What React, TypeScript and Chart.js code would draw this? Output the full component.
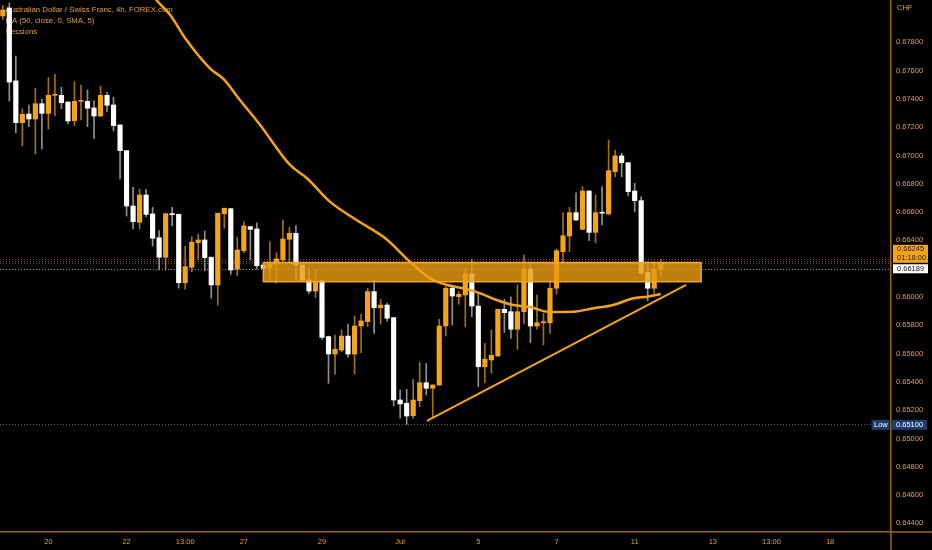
import React, { useEffect, useRef } from "react";
import { Chart, registerables } from "chart.js";

Chart.register(...registerables);

// ---- data (4h candles, index 0 = leftmost partially visible bar) ----
const OPEN = [
  0.67986, 0.68042, 0.67527, 0.67232, 0.67293, 0.67258, 0.67366, 0.67298, 0.67425, 0.67425,
  0.67378, 0.67246, 0.67383, 0.67383, 0.67336, 0.67279, 0.67425, 0.67357, 0.67216, 0.67034,
  0.66643, 0.66528, 0.66721, 0.66587, 0.66419, 0.66281, 0.66587, 0.66584, 0.66101, 0.66210,
  0.66384, 0.66403, 0.66281, 0.66085, 0.66589, 0.66624, 0.66196, 0.66327, 0.66497, 0.66481,
  0.66226, 0.66203, 0.66233, 0.66262, 0.66408, 0.66450, 0.66226, 0.66120, 0.66042, 0.66115,
  0.65720, 0.65597, 0.65625, 0.65724, 0.65597, 0.65795, 0.65826, 0.66038, 0.65924, 0.65943,
  0.65854, 0.65272, 0.65249, 0.65161, 0.65267, 0.65394, 0.65355, 0.65378, 0.65795, 0.66062,
  0.66002, 0.66014, 0.66163, 0.65936, 0.65507, 0.65555, 0.65583, 0.65913, 0.65896, 0.65772,
  0.65896, 0.66196, 0.65795, 0.65818, 0.65818, 0.66062, 0.66320, 0.66431, 0.66596, 0.66478,
  0.66749, 0.66457, 0.66599, 0.66587, 0.66886, 0.66997, 0.66949, 0.66749, 0.66681, 0.66175,
  0.66062, 0.66196,
];
const HIGH = [
  0.68060, 0.68078, 0.67703, 0.67329, 0.67357, 0.67475, 0.67397, 0.67550, 0.67574, 0.67482,
  0.67380, 0.67522, 0.67498, 0.67463, 0.67387, 0.67491, 0.67447, 0.67411, 0.67218, 0.67035,
  0.66775, 0.66763, 0.66761, 0.66634, 0.66469, 0.66592, 0.66634, 0.66587, 0.66360, 0.66426,
  0.66445, 0.66466, 0.66283, 0.66594, 0.66629, 0.66626, 0.66422, 0.66532, 0.66500, 0.66525,
  0.66229, 0.66391, 0.66313, 0.66544, 0.66493, 0.66504, 0.66228, 0.66203, 0.66191, 0.66120,
  0.65724, 0.65731, 0.65767, 0.65809, 0.65866, 0.65878, 0.66062, 0.66120, 0.65984, 0.65955,
  0.65856, 0.65343, 0.65348, 0.65418, 0.65539, 0.65531, 0.65380, 0.65842, 0.66073, 0.66073,
  0.66038, 0.66203, 0.66266, 0.66030, 0.65673, 0.65767, 0.65915, 0.65984, 0.66002, 0.66085,
  0.66297, 0.66238, 0.66014, 0.65885, 0.66108, 0.66339, 0.66596, 0.66634, 0.66737, 0.66780,
  0.66752, 0.66721, 0.66780, 0.67110, 0.67039, 0.67016, 0.66952, 0.66804, 0.66709, 0.66249,
  0.66249, 0.66266,
];
const LOW = [
  0.67960, 0.67385, 0.67161, 0.67067, 0.67204, 0.67011, 0.67046, 0.67187, 0.67281, 0.67331,
  0.67223, 0.67211, 0.67251, 0.67204, 0.67119, 0.67275, 0.67310, 0.67173, 0.66834, 0.66572,
  0.66481, 0.66481, 0.66568, 0.66360, 0.66191, 0.66191, 0.66502, 0.66062, 0.66054, 0.66179,
  0.66262, 0.66184, 0.65991, 0.65943, 0.66486, 0.66160, 0.66151, 0.66313, 0.66262, 0.66196,
  0.66196, 0.66108, 0.66097, 0.66249, 0.66249, 0.66108, 0.66115, 0.66026, 0.65997, 0.65701,
  0.65390, 0.65454, 0.65613, 0.65574, 0.65456, 0.65606, 0.65790, 0.65743, 0.65809, 0.65830,
  0.65230, 0.65143, 0.65100, 0.65143, 0.65225, 0.65307, 0.65154, 0.65374, 0.65724, 0.65802,
  0.65948, 0.65790, 0.65861, 0.65366, 0.65394, 0.65461, 0.65580, 0.65748, 0.65708, 0.65630,
  0.65809, 0.65677, 0.65772, 0.65661, 0.65743, 0.66020, 0.66238, 0.66320, 0.66540, 0.66475,
  0.66398, 0.66384, 0.66509, 0.66580, 0.66850, 0.66850, 0.66714, 0.66603, 0.66160, 0.65974,
  0.66026, 0.66144,
];
const CLOSE = [
  0.68028, 0.67519, 0.67232, 0.67291, 0.67258, 0.67366, 0.67298, 0.67425, 0.67430, 0.67373,
  0.67244, 0.67383, 0.67386, 0.67334, 0.67279, 0.67425, 0.67355, 0.67211, 0.67034, 0.66643,
  0.66532, 0.66721, 0.66584, 0.66415, 0.66281, 0.66589, 0.66582, 0.66101, 0.66214, 0.66387,
  0.66403, 0.66278, 0.66085, 0.66592, 0.66627, 0.66191, 0.66332, 0.66502, 0.66478, 0.66221,
  0.66203, 0.66231, 0.66269, 0.66410, 0.66450, 0.66226, 0.66120, 0.66042, 0.66108, 0.65715,
  0.65597, 0.65630, 0.65724, 0.65597, 0.65795, 0.65831, 0.66038, 0.65924, 0.65943, 0.65850,
  0.65272, 0.65244, 0.65159, 0.65272, 0.65394, 0.65355, 0.65378, 0.65795, 0.66062, 0.66007,
  0.66019, 0.66163, 0.65936, 0.65507, 0.65560, 0.65588, 0.65913, 0.65889, 0.65772, 0.65896,
  0.66196, 0.65795, 0.65818, 0.65826, 0.66062, 0.66327, 0.66433, 0.66596, 0.66544, 0.66749,
  0.66457, 0.66596, 0.66592, 0.66893, 0.66997, 0.66949, 0.66744, 0.66681, 0.66168, 0.66062,
  0.66196, 0.66245,
];

// MA(50) line (bar index, price)
const MA_IDX = [22.6, 23.6, 25.7, 28.2, 31.8, 33.9, 36.4, 39.5, 44.1, 46.7, 50.2, 54.3, 58.9, 62.5, 65.6, 68.2, 71.2, 73.3, 75.8, 78.4, 80.9, 84.0, 87.6, 90.7, 93.7, 96.8, 98.9, 101.0];
const MA_VAL = [0.68170, 0.68099, 0.67993, 0.67816, 0.67616, 0.67539, 0.67392, 0.67216, 0.66933, 0.66839, 0.66674, 0.66544, 0.66408, 0.66249, 0.66132, 0.66085, 0.66057, 0.66026, 0.65979, 0.65943, 0.65929, 0.65894, 0.65896, 0.65920, 0.65943, 0.65991, 0.66002, 0.66021];

// rising trend line
const TREND_IDX = [65.1, 104.9];
const TREND_VAL = [0.65124, 0.66085];

// resistance zone
const ZONE_IDX = [40, 107.2];
const ZONE_VAL = [0.66243, 0.66108];

// axis ticks
const X_TICK_IDX = [7, 19, 28, 37, 49, 61, 73, 85, 97, 109, 118, 127];
const X_TICK_TEXT = ["20", "22", "13:00", "27", "29", "Jul", "5", "7", "11", "13", "13:00", "18"];
const Y_TICKS = [0.644, 0.646, 0.648, 0.65, 0.652, 0.654, 0.656, 0.658, 0.66, 0.662, 0.664, 0.666, 0.668, 0.67, 0.672, 0.674, 0.676, 0.678];

const LAST_PRICE = 0.66245;
const COUNTDOWN = "01:18:00";
const BID_PRICE = 0.66189;
const LOW_PRICE = 0.651;
const LEGEND = ["Australian Dollar / Swiss Franc, 4h, FOREX.com", "MA (50, close, 0, SMA, 5)", "Sessions"];

const ORANGE = "#F5A416";
const TEXT_ORANGE = "#E3A03A";
const AXIS_LINE = "#9a6614";
const FONT = "'Liberation Sans', Arial, sans-serif";

const overlay = {
  id: "overlay",
  beforeDatasetsDraw(chart: any) {
    const { ctx, chartArea, scales } = chart;
    const y = scales.y;
    ctx.save();
    // legend text (under candles)
    ctx.font = `7.8px ${FONT}`;
    ctx.fillStyle = TEXT_ORANGE;
    ctx.textBaseline = "middle";
    ctx.textAlign = "left";
    LEGEND.forEach((t, i) => ctx.fillText(t, 5.5, 10 + i * 10.8));
    // dotted price lines
    ctx.lineWidth = 1;
    ctx.setLineDash([1, 2]);
    const dl = (p: number, color: string, off = 0) => {
      const py = Math.round(y.getPixelForValue(p) + off) + 0.5;
      ctx.strokeStyle = color;
      ctx.beginPath();
      ctx.moveTo(chartArea.left, py);
      ctx.lineTo(chartArea.right, py);
      ctx.stroke();
    };
    dl(LAST_PRICE, "rgba(170,70,50,0.9)", -3.5);
    dl(LAST_PRICE, "rgba(170,70,50,0.9)", -1);
    dl(LAST_PRICE, "rgba(150,150,150,0.55)", 1);
    dl(BID_PRICE, "rgba(200,200,200,0.7)", -1.3);
    dl(LOW_PRICE, "rgba(120,130,150,0.7)");
    ctx.restore();
  },
  beforeDatasetDraw(chart: any, args: any) {
    if (args.index !== 2) return;
    const { ctx, scales } = chart;
    const x0 = scales.x.getPixelForValue(ZONE_IDX[0]);
    const x1 = scales.x.getPixelForValue(ZONE_IDX[1]);
    const y0 = scales.y.getPixelForValue(ZONE_VAL[0]);
    const y1 = scales.y.getPixelForValue(ZONE_VAL[1]);
    ctx.save();
    ctx.fillStyle = "rgba(232,155,18,0.82)";
    ctx.fillRect(x0, y0, x1 - x0, y1 - y0);
    ctx.strokeStyle = "#F7A823";
    ctx.lineWidth = 1.5;
    ctx.strokeRect(x0, y0, x1 - x0, y1 - y0);
    ctx.restore();
  },
  afterDraw(chart: any) {
    const { ctx, chartArea, scales, width, height } = chart;
    const y = scales.y;
    const ax = chartArea.right;
    ctx.save();
    // extend axis lines into the corner
    ctx.strokeStyle = AXIS_LINE;
    ctx.lineWidth = 1.5;
    ctx.beginPath();
    ctx.moveTo(ax, chartArea.bottom);
    ctx.lineTo(width, chartArea.bottom);
    ctx.moveTo(ax, chartArea.bottom);
    ctx.lineTo(ax, height);
    ctx.stroke();

    ctx.font = `7.5px ${FONT}`;
    ctx.textBaseline = "middle";
    ctx.textAlign = "left";
    ctx.fillStyle = TEXT_ORANGE;
    ctx.fillText("CHF", ax + 6, 8);
    // last price box
    const ly = y.getPixelForValue(LAST_PRICE);
    ctx.fillStyle = "#F5A416";
    ctx.fillRect(ax + 2, ly - 17.5, 35, 18);
    ctx.fillStyle = "#2a1a00";
    ctx.fillText(LAST_PRICE.toFixed(5), ax + 6, ly - 13);
    ctx.fillText(COUNTDOWN, ax + 6, ly - 4);
    // bid box
    const by = y.getPixelForValue(BID_PRICE);
    ctx.fillStyle = "#ffffff";
    ctx.fillRect(ax + 2, by - 6, 35, 9);
    ctx.fillStyle = "#111";
    ctx.fillText(BID_PRICE.toFixed(5), ax + 6, by - 1.5);
    // low label
    const lowy = y.getPixelForValue(LOW_PRICE);
    ctx.fillStyle = "#1f3b6e";
    ctx.fillRect(ax - 19.5, lowy - 4.5, 18, 10);
    ctx.fillRect(ax, lowy - 4.5, 36, 10);
    ctx.fillStyle = "#ffffff";
    ctx.fillText("Low", ax - 17, lowy + 0.5);
    ctx.fillText(LOW_PRICE.toFixed(5), ax + 5, lowy + 0.5);
    ctx.restore();
  },
};

export default function App() {
  const ref = useRef<HTMLCanvasElement | null>(null);
  useEffect(() => {
    document.body.style.margin = "0";
    document.body.style.background = "#000";
    const canvas = ref.current;
    if (!canvas) return;
    const idx = OPEN.map((_, i) => i);
    const up = idx.map((i) => CLOSE[i] >= OPEN[i]);
    const chart = new Chart(canvas, {
      type: "bar",
      data: {
        datasets: [
          {
            type: "bar",
            label: "wicks",
            data: idx.map((i) => ({ x: i, y: [LOW[i], HIGH[i]] })) as any,
            backgroundColor: up.map((u) => (u ? "rgba(214,148,30,0.75)" : "#8f8f8f")),
            barThickness: 1,
            grouped: false,
            borderWidth: 0,
            order: 5,
          } as any,
          {
            type: "bar",
            label: "bodies",
            data: idx.map((i) => ({ x: i, y: [OPEN[i], CLOSE[i]] })) as any,
            backgroundColor: up.map((u) => (u ? ORANGE : "#ffffff")),
            barThickness: 4.5,
            minBarLength: 1,
            grouped: false,
            borderWidth: 0,
            order: 4,
          } as any,
          {
            type: "line",
            label: "MA",
            data: MA_IDX.map((v, i) => ({ x: v, y: MA_VAL[i] })),
            borderColor: ORANGE,
            borderWidth: 2.5,
            pointRadius: 0,
            cubicInterpolationMode: "monotone",
            order: 2,
          } as any,
          {
            type: "line",
            label: "trend",
            data: TREND_IDX.map((v, i) => ({ x: v, y: TREND_VAL[i] })),
            borderColor: ORANGE,
            borderWidth: 2,
            pointRadius: 0,
            order: 1,
          } as any,
        ],
      },
      options: {
        animation: false,
        responsive: false,
        devicePixelRatio: 1,
        layout: { padding: 0 },
        plugins: { legend: { display: false }, tooltip: { enabled: false } },
        scales: {
          x: {
            type: "linear",
            position: "bottom",
            min: -0.43,
            max: 136.35,
            offset: false,
            grid: { display: false, drawTicks: false },
            border: { display: true, color: AXIS_LINE, width: 1.5 },
            afterBuildTicks: (s: any) => {
              s.ticks = X_TICK_IDX.map((v) => ({ value: v }));
            },
            afterFit: (s: any) => {
              s.height = 18;
              s.paddingLeft = 0;
              s.paddingRight = 0;
            },
            ticks: {
              autoSkip: false,
              maxRotation: 0,
              padding: 5,
              color: TEXT_ORANGE,
              font: { family: FONT, size: 7.5 },
              callback: (v: any) => {
                const k = X_TICK_IDX.indexOf(Number(v));
                return k >= 0 ? X_TICK_TEXT[k] : "";
              },
            },
          },
          y: {
            type: "linear",
            position: "right",
            min: 0.643392,
            max: 0.680989,
            grid: { display: false, drawTicks: false },
            border: { display: true, color: AXIS_LINE, width: 1.5 },
            afterBuildTicks: (s: any) => {
              s.ticks = Y_TICKS.map((v) => ({ value: v }));
            },
            afterFit: (s: any) => {
              s.width = 41;
              s.paddingTop = 0;
              s.paddingBottom = 0;
            },
            ticks: {
              padding: 5,
              color: TEXT_ORANGE,
              font: { family: FONT, size: 7.5 },
              callback: (v: any) => Number(v).toFixed(5),
            },
          },
        },
      } as any,
      plugins: [overlay],
    });
    return () => chart.destroy();
  }, []);
  return (
    <div style={{ position: "absolute", left: 0, top: 0, width: 932, height: 550, background: "#000" }}>
      <canvas ref={ref} width={932} height={550} style={{ width: 932, height: 550, display: "block" }} />
    </div>
  );
}
